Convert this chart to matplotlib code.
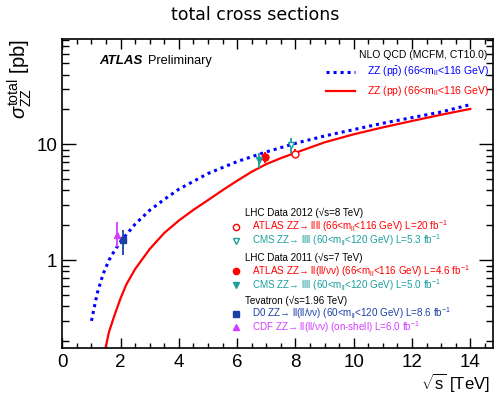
import matplotlib
matplotlib.use("Agg")
import matplotlib.pyplot as plt
from matplotlib.lines import Line2D
from matplotlib.ticker import MultipleLocator, LogLocator, NullFormatter, FixedLocator, FixedFormatter

plt.rcParams['font.family'] = ['Liberation Sans', 'DejaVu Sans']
plt.rcParams['mathtext.fontset'] = 'custom'
plt.rcParams['mathtext.rm'] = 'Liberation Sans'
plt.rcParams['mathtext.it'] = 'Liberation Sans:italic'
plt.rcParams['mathtext.bf'] = 'Liberation Sans:bold'

# ---- data ----
sqrt_s_ppbar = [1.0, 1.2, 1.4, 1.6, 1.8, 2.0, 2.5, 3.0, 3.5, 4.0, 5.0, 6.0, 7.0, 8.0, 9.0, 10.0, 11.0, 12.0, 13.0, 14.0]
xsec_ppbar = [0.30, 0.52, 0.76, 1.00, 1.22, 1.45, 2.05, 2.70, 3.35, 4.10, 5.60, 7.10, 8.60, 10.2, 11.8, 13.4, 15.2, 17.0, 19.0, 22.0]

sqrt_s_pp = [1.4, 1.6, 1.8, 2.0, 2.2, 2.5, 3.0, 3.5, 4.0, 4.5, 5.0, 5.5, 6.0, 6.5, 7.0, 7.5, 8.0, 9.0, 10.0, 11.0, 12.0, 13.0, 14.0]
xsec_pp = [0.14, 0.24, 0.34, 0.47, 0.62, 0.84, 1.25, 1.72, 2.20, 2.72, 3.30, 4.02, 4.85, 5.80, 6.75, 7.6, 8.45, 10.4, 12.2, 14.0, 15.9, 18.0, 20.2]

# measurements: (sqrt_s, value, err_low, err_high)
atlas12 = (8.0, 8.25, 0.7, 0.8)
cms12 = (7.85, 9.9, 1.5, 1.4)
atlas11 = (6.96, 7.72, 0.87, 0.88)
cms11 = (6.75, 7.32, 1.12, 1.08)
d0 = (2.07, 1.49, 0.38, 0.34)
cdf = (1.88, 1.64, 0.33, 0.50)

x_ticks = [0, 2, 4, 6, 8, 10, 12, 14]
y_ticks = [1, 10]
y_tick_labels = ['1', '10']

RED = '#ff0000'
BLUE = '#0000ff'
TEAL = '#1a9e9e'
D0C = '#1a40a8'
CDFC = '#d43cff'

W, H = 497, 394
fig = plt.figure(figsize=(W / 100, H / 100), dpi=100)
ax = fig.add_axes([62.3 / W, 1 - 348 / H, (493 - 62.3) / W, (348 - 39) / H])

def px(x, y):
    return x / W, 1 - y / H

ax.plot(sqrt_s_ppbar, xsec_ppbar, color=BLUE, lw=2.2, linestyle=(0, (1, 1.3)))
ax.plot(sqrt_s_pp, xsec_pp, color=RED, lw=1.6)

def meas(m, color, marker, filled=True, ms=5):
    x, v, lo, hi = m
    ax.errorbar([x], [v], yerr=[[lo], [hi]], fmt='none', ecolor=color, elinewidth=1.3, capsize=0)
    ax.plot([x], [v], marker=marker, linestyle='none', ms=ms,
            mfc=color if filled else 'white', mec=color, mew=1.0)

meas(atlas12, RED, 'o', filled=False)
meas(cms12, TEAL, 'v', filled=False)
meas(atlas11, RED, 'o')
meas(cms11, TEAL, 'v')
meas(d0, D0C, 's')
meas(cdf, CDFC, '^')

ax.set_yscale('log')
ax.set_xlim(0, 14.78)
ax.set_ylim(0.175, 81)
ax.xaxis.set_major_locator(FixedLocator(x_ticks))
ax.xaxis.set_minor_locator(MultipleLocator(0.5))
ax.yaxis.set_major_locator(FixedLocator(y_ticks))
ax.yaxis.set_major_formatter(FixedFormatter(y_tick_labels))
ax.yaxis.set_minor_locator(LogLocator(base=10, subs=range(2, 10)))
ax.yaxis.set_minor_formatter(NullFormatter())
ax.tick_params(which='both', direction='in', top=True, right=True, width=1.0, labelsize=13.5)
ax.tick_params(axis='x', which='major', length=7, pad=4)
ax.tick_params(axis='x', which='minor', length=3.5)
ax.tick_params(axis='y', which='major', length=10, pad=3.5)
ax.tick_params(axis='y', which='minor', length=5)
for s in ax.spines.values():
    s.set_linewidth(1.2)

# titles / labels
fig.text(*px(255, 15), 'total cross sections', ha='center', va='center', fontsize=12.5, family='DejaVu Sans')
fig.text(*px(490, 382), r'$\sqrt{\rm s}$ [TeV]', ha='right', va='center', fontsize=12)
fig.text(*px(20, 39), r'$\sigma^{\rm total}_{\rm ZZ}$ [pb]', ha='center', va='top', rotation=90, fontsize=14.5)

# ATLAS label
fig.text(*px(99, 61), 'ATLAS', ha='left', va='center', fontsize=9.5, weight='bold', style='italic')
fig.text(*px(148, 61), 'Preliminary', ha='left', va='center', fontsize=9.2)

# theory legend
fig.text(*px(487, 55), 'NLO QCD (MCFM, CT10.0)', ha='right', va='center', fontsize=7.5)
fig.add_artist(Line2D([326 / W, 355 / W], [1 - 72.3 / H] * 2, transform=fig.transFigure,
                      color=BLUE, lw=2.2, linestyle=(0, (1, 1.3))))
fig.add_artist(Line2D([326 / W, 355 / W], [1 - 90.7 / H] * 2, transform=fig.transFigure,
                      color=RED, lw=1.6))
fig.text(*px(366.7, 72.3), r'ZZ (p$\bar{\rm p}$) (66<m$_{\rm ll}$<116 GeV)', ha='left', va='center', fontsize=7.5, color=BLUE)
fig.text(*px(366.7, 90.7), r'ZZ (pp) (66<m$_{\rm ll}$<116 GeV)', ha='left', va='center', fontsize=7.5, color=RED)

# measurement legend
fs = 7.1
rows = [
    (213, None, None, 'black', 'LHC Data 2012 (\u221as=8 TeV)', True),
    (226.5, 'o', False, RED, 'ATLAS ZZ\u2192 llll (66<m$_{\\rm ll}$<116 GeV) L=20 fb$^{-1}$', False),
    (240.5, 'v', False, TEAL, 'CMS ZZ\u2192 llll (60<m$_{\\rm ll}$<120 GeV) L=5.3 fb$^{-1}$', False),
    (258, None, None, 'black', 'LHC Data 2011 (\u221as=7 TeV)', True),
    (271, 'o', True, RED, 'ATLAS ZZ\u2192 ll(ll/\u03bd\u03bd) (66<m$_{\\rm ll}$<116 GeV) L=4.6 fb$^{-1}$', False),
    (285, 'v', True, TEAL, 'CMS ZZ\u2192 llll (60<m$_{\\rm ll}$<120 GeV) L=5.0 fb$^{-1}$', False),
    (301, None, None, 'black', 'Tevatron (\u221as=1.96 TeV)', True),
    (313.5, 's', True, D0C, 'D0 ZZ\u2192 ll(ll/\u03bd\u03bd) (60<m$_{\\rm ll}$<120 GeV) L=8.6 fb$^{-1}$', False),
    (327, '^', True, CDFC, 'CDF ZZ\u2192 ll(ll/\u03bd\u03bd) (on-shell) L=6.0 fb$^{-1}$', False),
]
for y, mk, filled, col, txt, header in rows:
    if header:
        fig.text(*px(245, y), txt, ha='left', va='center', fontsize=fs, color='black')
    else:
        fig.add_artist(Line2D([235.5 / W], [1 - y / H], transform=fig.transFigure, marker=mk,
                              linestyle='none', ms=4.5, mfc=col if filled else 'white', mec=col, mew=1.0))
        fig.text(*px(251.7, y), txt, ha='left', va='center', fontsize=fs, color=col)

fig.savefig('out.png', dpi=100)
